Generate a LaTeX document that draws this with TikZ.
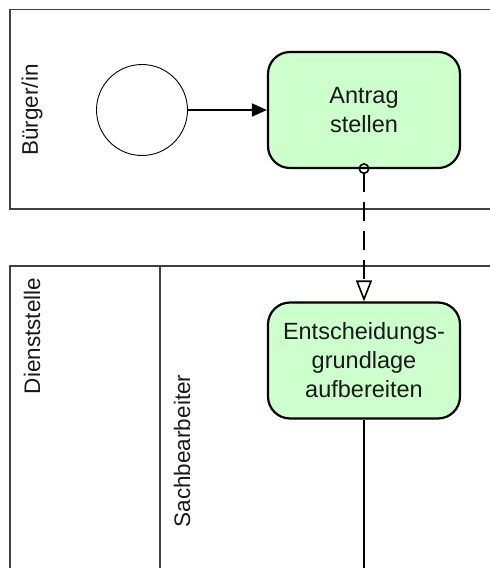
\documentclass[tikz,border=0pt]{standalone}
\usepackage{fontspec}
\setmainfont{Liberation Sans}
\usetikzlibrary{arrows.meta}
\definecolor{taskgreen}{HTML}{CCFFCC}
\definecolor{poolline}{HTML}{404040}
\tikzset{
  pool/.style={draw=poolline,line width=1.5pt},
  lanelabel/.style={rotate=90,font=\fontsize{22.5}{26}\selectfont,text=black!90},
  task/.style={draw,line width=2.2pt,fill=taskgreen,rounded corners=22pt,
    minimum width=192pt,minimum height=116pt,align=center,
    font=\fontsize{23.5}{29}\selectfont,text=black!90},
  startevent/.style={draw,circle,line width=0.9pt,minimum size=91pt,inner sep=0pt},
  seqflow/.style={line width=1.8pt,-{Triangle[length=15pt,width=13pt]}},
  msgflow/.style={line width=1.8pt,dash pattern=on 19pt off 10pt,
    {Circle[open,length=11pt,width=11pt,line width=1.6pt]}-{Triangle[open,length=21pt,width=16pt,line width=1.6pt]}}
}
\begin{document}
\begin{tikzpicture}[x=1pt,y=-1pt]
  \useasboundingbox (0,0) rectangle (490,568);
  \clip (0,0) rectangle (490,568);
  % pools and lanes
  \draw[pool] (500,9.5) -- (10,9.5) -- (10,209) -- (500,209);
  \draw[pool] (500,266) -- (10,266) -- (10,580);
  \draw[pool] (160,266) -- (160,580);
  \node[lanelabel] (buerger) at (32,110) {Bürger/in};
  \node[lanelabel] (dienst) at (32,336) {Dienststelle};
  \node[lanelabel] (sachb) at (182,451) {Sachbearbeiter};
  % flow objects
  \node[startevent] (start) at (142,110) {};
  \node[task] (antrag) at (364,110) {Antrag\\stellen};
  \node[task] (entsch) at (364,360.5) {Entscheidungs-\\grundlage\\aufbereiten};
  \coordinate (down) at (364,580);
  % connectors
  \draw[seqflow] (start) -- (antrag);
  \draw[msgflow] ([yshift=6pt]antrag.south) -- (entsch.north);
  \draw[line width=1.8pt] (entsch.south) -- (down);
\end{tikzpicture}
\end{document}
